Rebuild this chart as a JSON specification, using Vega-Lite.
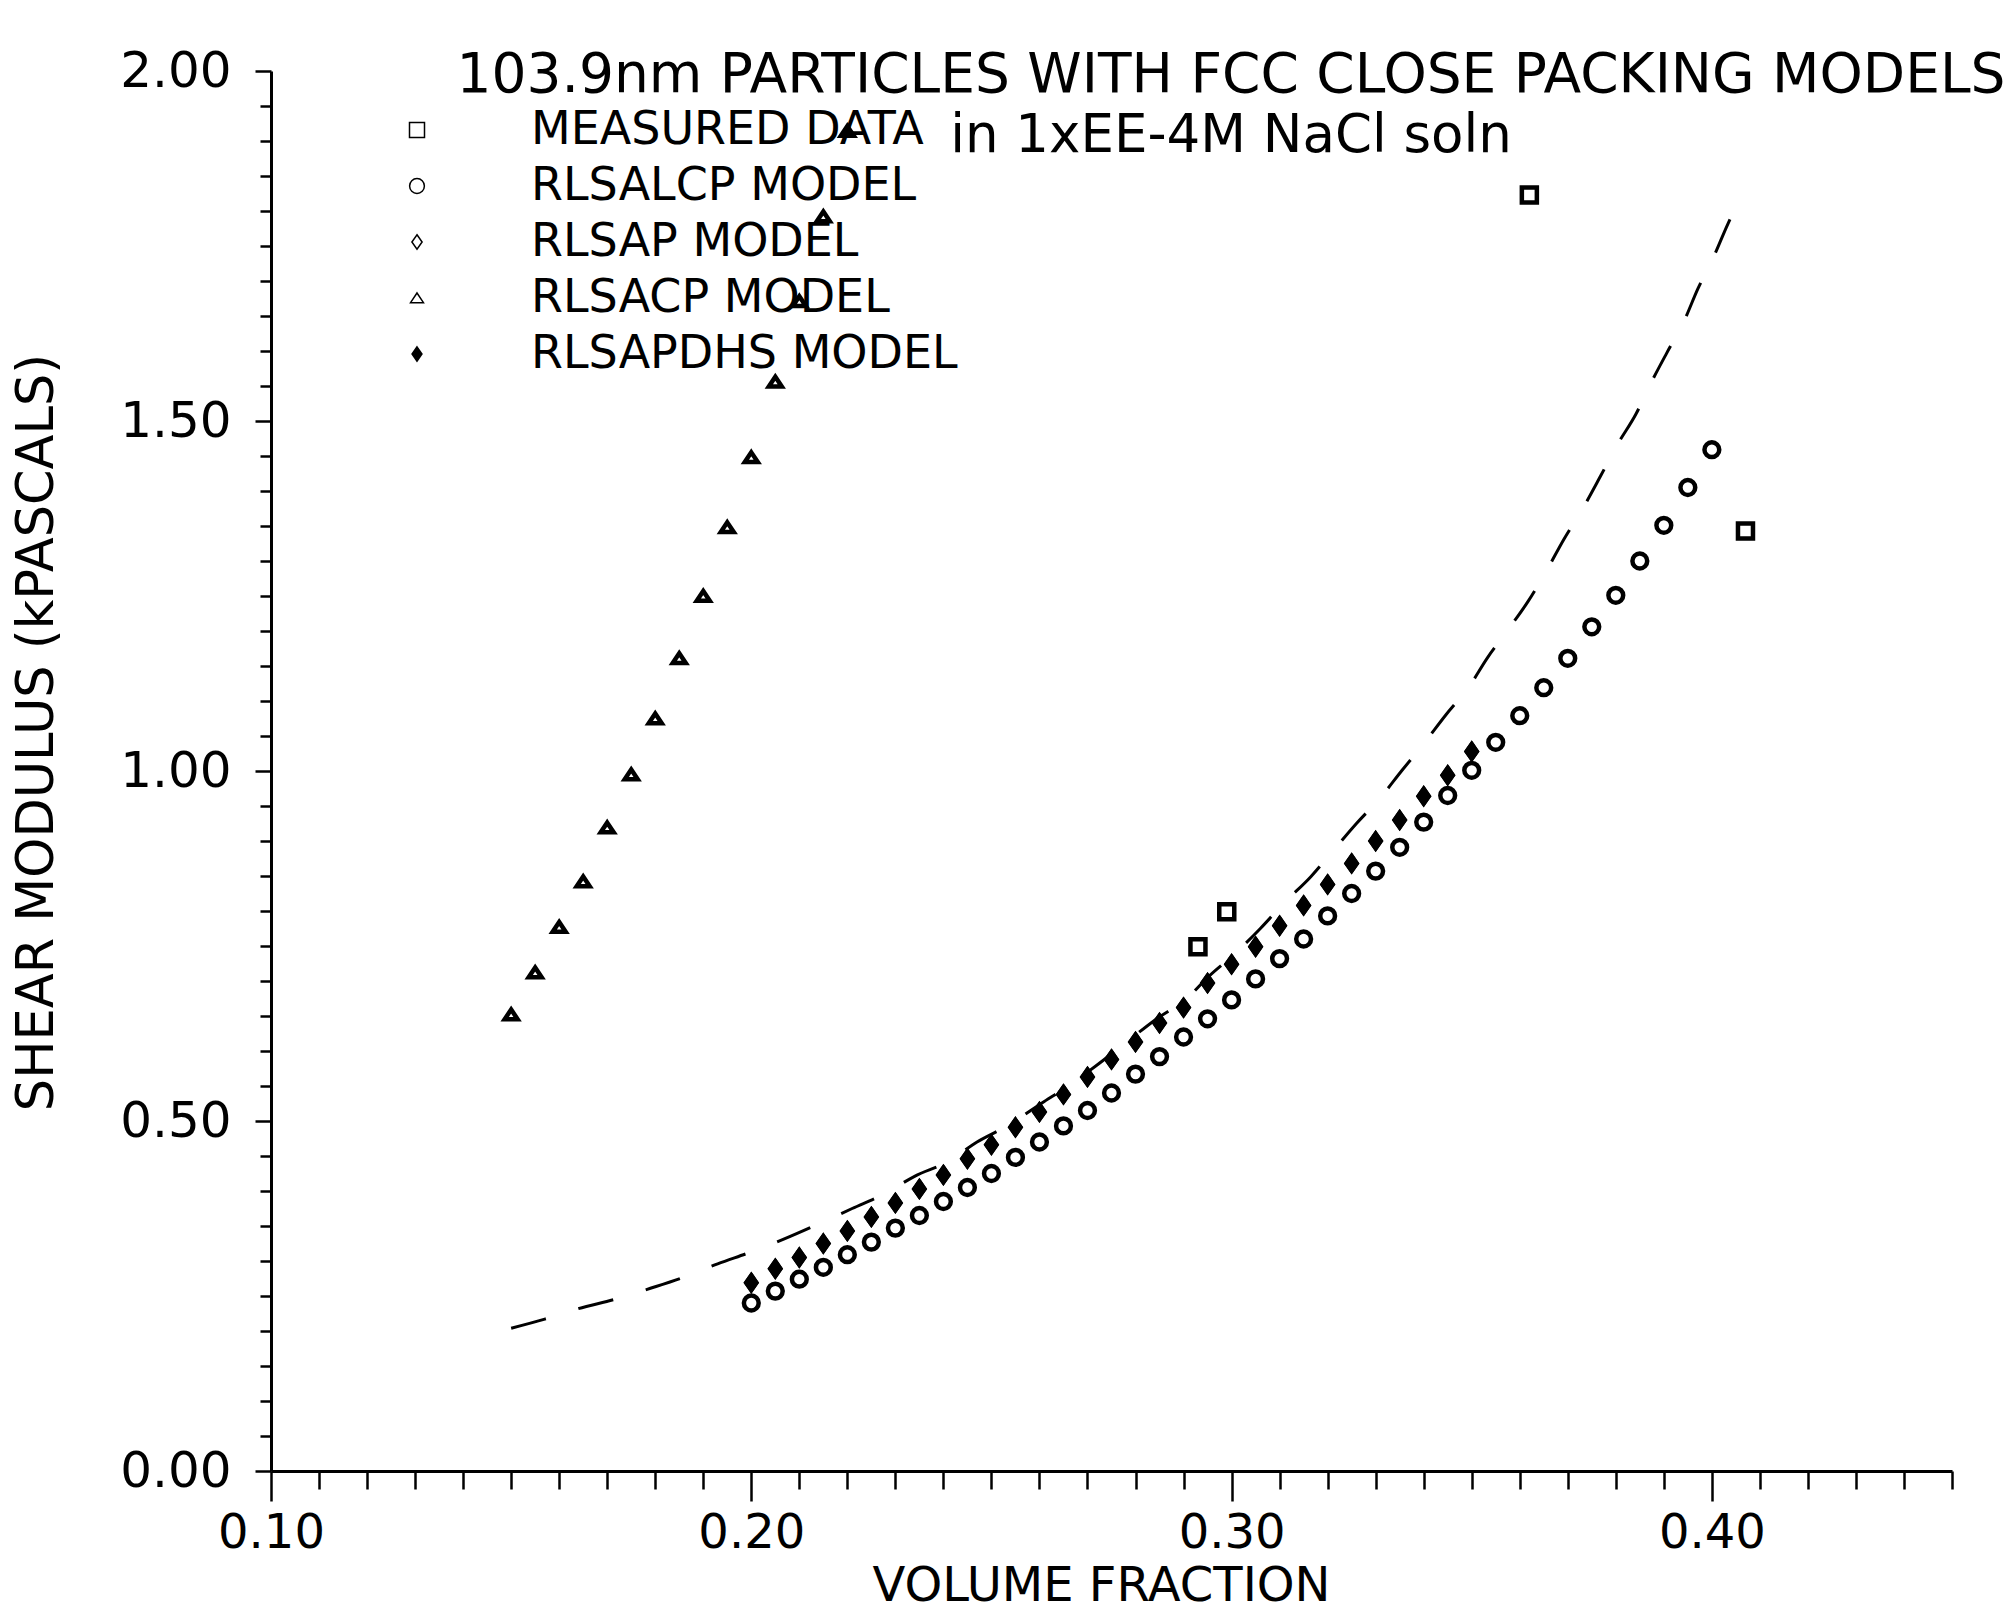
{
  "$schema": "https://vega.github.io/schema/vega-lite/v6.json",
  "width": 1681,
  "height": 1400,
  "autosize": {"type": "none"},
  "padding": {"left": 271, "top": 71, "right": 62, "bottom": 145},
  "background": "white",
  "config": {"view": {"stroke": null}, "font": "DejaVu Sans"},
  "title": {
    "text": "103.9nm PARTICLES WITH FCC CLOSE PACKING MODELS",
    "subtitle": "in 1xEE-4M NaCl soln",
    "anchor": "start",
    "align": "center",
    "frame": "group",
    "orient": "top",
    "offset": 0,
    "dx": 960,
    "dy": 118,
    "font": "DejaVu Sans",
    "fontSize": 55,
    "fontWeight": "normal",
    "color": "black",
    "subtitleFont": "DejaVu Sans",
    "subtitleFontSize": 53,
    "subtitleColor": "black",
    "subtitlePadding": 6
  },
  "datasets": {
    "curve": [
      {"fraction": 0.150, "modulus": 0.204},
      {"fraction": 0.157, "modulus": 0.217},
      {"fraction": 0.164, "modulus": 0.232},
      {"fraction": 0.172, "modulus": 0.246},
      {"fraction": 0.179, "modulus": 0.261},
      {"fraction": 0.186, "modulus": 0.277},
      {"fraction": 0.193, "modulus": 0.296},
      {"fraction": 0.200, "modulus": 0.313},
      {"fraction": 0.207, "modulus": 0.332},
      {"fraction": 0.214, "modulus": 0.353},
      {"fraction": 0.221, "modulus": 0.375},
      {"fraction": 0.228, "modulus": 0.397},
      {"fraction": 0.234, "modulus": 0.421},
      {"fraction": 0.241, "modulus": 0.442},
      {"fraction": 0.247, "modulus": 0.470},
      {"fraction": 0.253, "modulus": 0.492},
      {"fraction": 0.261, "modulus": 0.528},
      {"fraction": 0.266, "modulus": 0.550},
      {"fraction": 0.272, "modulus": 0.580},
      {"fraction": 0.278, "modulus": 0.612},
      {"fraction": 0.284, "modulus": 0.644},
      {"fraction": 0.291, "modulus": 0.677},
      {"fraction": 0.295, "modulus": 0.705},
      {"fraction": 0.301, "modulus": 0.741},
      {"fraction": 0.306, "modulus": 0.775},
      {"fraction": 0.311, "modulus": 0.812},
      {"fraction": 0.3165, "modulus": 0.849},
      {"fraction": 0.321, "modulus": 0.885},
      {"fraction": 0.326, "modulus": 0.925},
      {"fraction": 0.331, "modulus": 0.962},
      {"fraction": 0.3355, "modulus": 1.001},
      {"fraction": 0.340, "modulus": 1.039},
      {"fraction": 0.3446, "modulus": 1.080},
      {"fraction": 0.3495, "modulus": 1.121},
      {"fraction": 0.3533, "modulus": 1.162},
      {"fraction": 0.3577, "modulus": 1.203},
      {"fraction": 0.3618, "modulus": 1.243},
      {"fraction": 0.3658, "modulus": 1.289},
      {"fraction": 0.3692, "modulus": 1.331},
      {"fraction": 0.3732, "modulus": 1.376},
      {"fraction": 0.3768, "modulus": 1.421},
      {"fraction": 0.3804, "modulus": 1.467},
      {"fraction": 0.3842, "modulus": 1.510},
      {"fraction": 0.3873, "modulus": 1.554},
      {"fraction": 0.3906, "modulus": 1.597},
      {"fraction": 0.3941, "modulus": 1.641},
      {"fraction": 0.3971, "modulus": 1.689},
      {"fraction": 0.4004, "modulus": 1.735},
      {"fraction": 0.4033, "modulus": 1.781},
      {"fraction": 0.4064, "modulus": 1.825}
    ],
    "points": [
      {"series": "MEASURED DATA", "fraction": 0.293, "modulus": 0.749},
      {"series": "MEASURED DATA", "fraction": 0.299, "modulus": 0.799},
      {"series": "MEASURED DATA", "fraction": 0.362, "modulus": 1.823},
      {"series": "MEASURED DATA", "fraction": 0.407, "modulus": 1.343},

      {"series": "RLSALCP MODEL", "fraction": 0.200, "modulus": 0.240},
      {"series": "RLSALCP MODEL", "fraction": 0.205, "modulus": 0.257},
      {"series": "RLSALCP MODEL", "fraction": 0.210, "modulus": 0.274},
      {"series": "RLSALCP MODEL", "fraction": 0.215, "modulus": 0.291},
      {"series": "RLSALCP MODEL", "fraction": 0.220, "modulus": 0.309},
      {"series": "RLSALCP MODEL", "fraction": 0.225, "modulus": 0.327},
      {"series": "RLSALCP MODEL", "fraction": 0.230, "modulus": 0.347},
      {"series": "RLSALCP MODEL", "fraction": 0.235, "modulus": 0.365},
      {"series": "RLSALCP MODEL", "fraction": 0.240, "modulus": 0.385},
      {"series": "RLSALCP MODEL", "fraction": 0.245, "modulus": 0.405},
      {"series": "RLSALCP MODEL", "fraction": 0.250, "modulus": 0.425},
      {"series": "RLSALCP MODEL", "fraction": 0.255, "modulus": 0.448},
      {"series": "RLSALCP MODEL", "fraction": 0.260, "modulus": 0.470},
      {"series": "RLSALCP MODEL", "fraction": 0.265, "modulus": 0.493},
      {"series": "RLSALCP MODEL", "fraction": 0.270, "modulus": 0.515},
      {"series": "RLSALCP MODEL", "fraction": 0.275, "modulus": 0.540},
      {"series": "RLSALCP MODEL", "fraction": 0.280, "modulus": 0.567},
      {"series": "RLSALCP MODEL", "fraction": 0.285, "modulus": 0.592},
      {"series": "RLSALCP MODEL", "fraction": 0.290, "modulus": 0.620},
      {"series": "RLSALCP MODEL", "fraction": 0.295, "modulus": 0.646},
      {"series": "RLSALCP MODEL", "fraction": 0.300, "modulus": 0.673},
      {"series": "RLSALCP MODEL", "fraction": 0.305, "modulus": 0.703},
      {"series": "RLSALCP MODEL", "fraction": 0.310, "modulus": 0.732},
      {"series": "RLSALCP MODEL", "fraction": 0.315, "modulus": 0.760},
      {"series": "RLSALCP MODEL", "fraction": 0.320, "modulus": 0.793},
      {"series": "RLSALCP MODEL", "fraction": 0.325, "modulus": 0.825},
      {"series": "RLSALCP MODEL", "fraction": 0.330, "modulus": 0.857},
      {"series": "RLSALCP MODEL", "fraction": 0.335, "modulus": 0.891},
      {"series": "RLSALCP MODEL", "fraction": 0.340, "modulus": 0.927},
      {"series": "RLSALCP MODEL", "fraction": 0.345, "modulus": 0.965},
      {"series": "RLSALCP MODEL", "fraction": 0.350, "modulus": 1.001},
      {"series": "RLSALCP MODEL", "fraction": 0.355, "modulus": 1.041},
      {"series": "RLSALCP MODEL", "fraction": 0.360, "modulus": 1.079},
      {"series": "RLSALCP MODEL", "fraction": 0.365, "modulus": 1.119},
      {"series": "RLSALCP MODEL", "fraction": 0.370, "modulus": 1.161},
      {"series": "RLSALCP MODEL", "fraction": 0.375, "modulus": 1.206},
      {"series": "RLSALCP MODEL", "fraction": 0.380, "modulus": 1.251},
      {"series": "RLSALCP MODEL", "fraction": 0.385, "modulus": 1.300},
      {"series": "RLSALCP MODEL", "fraction": 0.390, "modulus": 1.351},
      {"series": "RLSALCP MODEL", "fraction": 0.395, "modulus": 1.405},
      {"series": "RLSALCP MODEL", "fraction": 0.400, "modulus": 1.459},

      {"series": "RLSAP MODEL", "fraction": 0.200, "modulus": 0.269},
      {"series": "RLSAP MODEL", "fraction": 0.205, "modulus": 0.289},
      {"series": "RLSAP MODEL", "fraction": 0.210, "modulus": 0.305},
      {"series": "RLSAP MODEL", "fraction": 0.215, "modulus": 0.325},
      {"series": "RLSAP MODEL", "fraction": 0.220, "modulus": 0.343},
      {"series": "RLSAP MODEL", "fraction": 0.225, "modulus": 0.363},
      {"series": "RLSAP MODEL", "fraction": 0.230, "modulus": 0.383},
      {"series": "RLSAP MODEL", "fraction": 0.235, "modulus": 0.403},
      {"series": "RLSAP MODEL", "fraction": 0.240, "modulus": 0.423},
      {"series": "RLSAP MODEL", "fraction": 0.245, "modulus": 0.446},
      {"series": "RLSAP MODEL", "fraction": 0.250, "modulus": 0.466},
      {"series": "RLSAP MODEL", "fraction": 0.255, "modulus": 0.491},
      {"series": "RLSAP MODEL", "fraction": 0.260, "modulus": 0.513},
      {"series": "RLSAP MODEL", "fraction": 0.265, "modulus": 0.538},
      {"series": "RLSAP MODEL", "fraction": 0.270, "modulus": 0.563},
      {"series": "RLSAP MODEL", "fraction": 0.275, "modulus": 0.588},
      {"series": "RLSAP MODEL", "fraction": 0.280, "modulus": 0.613},
      {"series": "RLSAP MODEL", "fraction": 0.285, "modulus": 0.640},
      {"series": "RLSAP MODEL", "fraction": 0.290, "modulus": 0.662},
      {"series": "RLSAP MODEL", "fraction": 0.295, "modulus": 0.697},
      {"series": "RLSAP MODEL", "fraction": 0.300, "modulus": 0.724},
      {"series": "RLSAP MODEL", "fraction": 0.305, "modulus": 0.749},
      {"series": "RLSAP MODEL", "fraction": 0.310, "modulus": 0.779},
      {"series": "RLSAP MODEL", "fraction": 0.315, "modulus": 0.808},
      {"series": "RLSAP MODEL", "fraction": 0.320, "modulus": 0.838},
      {"series": "RLSAP MODEL", "fraction": 0.325, "modulus": 0.868},
      {"series": "RLSAP MODEL", "fraction": 0.330, "modulus": 0.900},
      {"series": "RLSAP MODEL", "fraction": 0.335, "modulus": 0.930},
      {"series": "RLSAP MODEL", "fraction": 0.340, "modulus": 0.964},
      {"series": "RLSAP MODEL", "fraction": 0.345, "modulus": 0.994},
      {"series": "RLSAP MODEL", "fraction": 0.350, "modulus": 1.028},

      {"series": "RLSACP MODEL", "fraction": 0.150, "modulus": 0.652},
      {"series": "RLSACP MODEL", "fraction": 0.155, "modulus": 0.712},
      {"series": "RLSACP MODEL", "fraction": 0.160, "modulus": 0.777},
      {"series": "RLSACP MODEL", "fraction": 0.165, "modulus": 0.842},
      {"series": "RLSACP MODEL", "fraction": 0.170, "modulus": 0.919},
      {"series": "RLSACP MODEL", "fraction": 0.175, "modulus": 0.995},
      {"series": "RLSACP MODEL", "fraction": 0.180, "modulus": 1.075},
      {"series": "RLSACP MODEL", "fraction": 0.185, "modulus": 1.161},
      {"series": "RLSACP MODEL", "fraction": 0.190, "modulus": 1.250},
      {"series": "RLSACP MODEL", "fraction": 0.195, "modulus": 1.348},
      {"series": "RLSACP MODEL", "fraction": 0.200, "modulus": 1.448},
      {"series": "RLSACP MODEL", "fraction": 0.205, "modulus": 1.556},
      {"series": "RLSACP MODEL", "fraction": 0.210, "modulus": 1.671},
      {"series": "RLSACP MODEL", "fraction": 0.215, "modulus": 1.792},
      {"series": "RLSACP MODEL", "fraction": 0.220, "modulus": 1.914},

      {"series": "RLSAPDHS MODEL", "fraction": 0.200, "modulus": 0.269},
      {"series": "RLSAPDHS MODEL", "fraction": 0.205, "modulus": 0.289},
      {"series": "RLSAPDHS MODEL", "fraction": 0.210, "modulus": 0.305},
      {"series": "RLSAPDHS MODEL", "fraction": 0.215, "modulus": 0.325},
      {"series": "RLSAPDHS MODEL", "fraction": 0.220, "modulus": 0.343},
      {"series": "RLSAPDHS MODEL", "fraction": 0.225, "modulus": 0.363},
      {"series": "RLSAPDHS MODEL", "fraction": 0.230, "modulus": 0.383},
      {"series": "RLSAPDHS MODEL", "fraction": 0.235, "modulus": 0.403},
      {"series": "RLSAPDHS MODEL", "fraction": 0.240, "modulus": 0.423},
      {"series": "RLSAPDHS MODEL", "fraction": 0.245, "modulus": 0.446},
      {"series": "RLSAPDHS MODEL", "fraction": 0.250, "modulus": 0.466},
      {"series": "RLSAPDHS MODEL", "fraction": 0.255, "modulus": 0.491},
      {"series": "RLSAPDHS MODEL", "fraction": 0.260, "modulus": 0.513},
      {"series": "RLSAPDHS MODEL", "fraction": 0.265, "modulus": 0.538},
      {"series": "RLSAPDHS MODEL", "fraction": 0.270, "modulus": 0.563},
      {"series": "RLSAPDHS MODEL", "fraction": 0.275, "modulus": 0.588},
      {"series": "RLSAPDHS MODEL", "fraction": 0.280, "modulus": 0.613},
      {"series": "RLSAPDHS MODEL", "fraction": 0.285, "modulus": 0.640},
      {"series": "RLSAPDHS MODEL", "fraction": 0.290, "modulus": 0.662},
      {"series": "RLSAPDHS MODEL", "fraction": 0.295, "modulus": 0.697},
      {"series": "RLSAPDHS MODEL", "fraction": 0.300, "modulus": 0.724},
      {"series": "RLSAPDHS MODEL", "fraction": 0.305, "modulus": 0.749},
      {"series": "RLSAPDHS MODEL", "fraction": 0.310, "modulus": 0.779},
      {"series": "RLSAPDHS MODEL", "fraction": 0.315, "modulus": 0.808},
      {"series": "RLSAPDHS MODEL", "fraction": 0.320, "modulus": 0.838},
      {"series": "RLSAPDHS MODEL", "fraction": 0.325, "modulus": 0.868},
      {"series": "RLSAPDHS MODEL", "fraction": 0.330, "modulus": 0.900},
      {"series": "RLSAPDHS MODEL", "fraction": 0.335, "modulus": 0.930},
      {"series": "RLSAPDHS MODEL", "fraction": 0.340, "modulus": 0.964},
      {"series": "RLSAPDHS MODEL", "fraction": 0.345, "modulus": 0.994},
      {"series": "RLSAPDHS MODEL", "fraction": 0.350, "modulus": 1.028}
    ]
  },
  "encoding": {
    "x": {
      "field": "fraction",
      "type": "quantitative",
      "scale": {"domain": [0.1, 0.45], "nice": false, "zero": false},
      "axis": {
        "values": [0.1,0.11,0.12,0.13,0.14,0.15,0.16,0.17,0.18,0.19,0.2,0.21,0.22,0.23,0.24,0.25,0.26,0.27,0.28,0.29,0.3,0.31,0.32,0.33,0.34,0.35,0.36,0.37,0.38,0.39,0.4,0.41,0.42,0.43,0.44,0.45],
        "labelExpr": "abs(datum.value*10 - round(datum.value*10)) < 0.0001 ? format(datum.value, '.2f') : ''",
        "labelOverlap": false,
        "labelFlush": false,
        "labelFont": "DejaVu Sans",
        "labelFontSize": 48,
        "labelColor": "black",
        "labelPadding": 8,
        "tickSize": {"condition": {"test": "abs(datum.value*10 - round(datum.value*10)) < 0.0001", "value": 30}, "value": 18},
        "tickWidth": 2.5,
        "tickColor": "black",
        "domainColor": "black",
        "domainWidth": 3,
        "grid": false,
        "title": "VOLUME FRACTION",
        "titleFont": "DejaVu Sans",
        "titleFontSize": 48,
        "titleFontWeight": "normal",
        "titleColor": "black",
        "titleX": 830,
        "titleY": 129,
        "titleAlign": "center",
        "titleBaseline": "alphabetic"
      }
    },
    "y": {
      "field": "modulus",
      "type": "quantitative",
      "scale": {"domain": [0, 2], "nice": false, "zero": false},
      "axis": {
        "values": [0,0.05,0.1,0.15,0.2,0.25,0.3,0.35,0.4,0.45,0.5,0.55,0.6,0.65,0.7,0.75,0.8,0.85,0.9,0.95,1,1.05,1.1,1.15,1.2,1.25,1.3,1.35,1.4,1.45,1.5,1.55,1.6,1.65,1.7,1.75,1.8,1.85,1.9,1.95,2],
        "labelExpr": "abs(datum.value*2 - round(datum.value*2)) < 0.0001 ? format(datum.value, '.2f') : ''",
        "labelOverlap": false,
        "labelFlush": false,
        "labelFont": "DejaVu Sans",
        "labelFontSize": 50,
        "labelColor": "black",
        "labelPadding": 24,
        "tickSize": {"condition": {"test": "abs(datum.value*2 - round(datum.value*2)) < 0.0001", "value": 16}, "value": 11},
        "tickWidth": 2.5,
        "tickColor": "black",
        "domainColor": "black",
        "domainWidth": 3,
        "grid": false,
        "title": "SHEAR MODULUS (kPASCALS)",
        "titleFont": "DejaVu Sans",
        "titleFontSize": 51,
        "titleFontWeight": "normal",
        "titleColor": "black",
        "titleX": -208,
        "titleY": 661,
        "titleAlign": "center",
        "titleAngle": 270,
        "titleBaseline": "bottom"
      }
    }
  },
  "layer": [
    {
      "data": {"name": "curve"},
      "mark": {"type": "line", "color": "black", "strokeWidth": 3, "strokeDash": [36, 34], "interpolate": "monotone"},
      "encoding": {}
    },
    {
      "data": {"name": "points"},
      "mark": {"type": "point", "opacity": 1, "color": "black", "stroke": "black", "strokeWidth": 4.5},
      "encoding": {
        "shape": {
          "field": "series", "type": "nominal",
          "scale": {
            "domain": ["MEASURED DATA", "RLSALCP MODEL", "RLSAP MODEL", "RLSACP MODEL", "RLSAPDHS MODEL"],
            "range": ["square", "circle", "M0,-1L0.7,0L0,1L-0.7,0Z", "M0,-0.7L0.9,0.65L-0.9,0.65Z", "M0,-1L0.7,0L0,1L-0.7,0ZM0,-0.5L-0.35,0L0,0.5L0.35,0ZM0,-0.2L0.14,0L0,0.2L-0.14,0Z"]
          },
          "legend": {
            "orient": "none", "legendX": 123, "legendY": 36, "title": null,
            "labelFont": "DejaVu Sans", "labelFontSize": 46, "labelColor": "black",
            "labelOffset": 91, "labelLimit": 0, "rowPadding": 10, "padding": 0,
            "symbolSize": 300,
            "encode": {"symbols": {"update": {"stroke": {"value": "black"}, "strokeWidth": {"value": 4}, "opacity": {"value": 1}}}}
          }
        },
        "fill": {
          "field": "series", "type": "nominal",
          "scale": {
            "domain": ["MEASURED DATA", "RLSALCP MODEL", "RLSAP MODEL", "RLSACP MODEL", "RLSAPDHS MODEL"],
            "range": ["transparent", "transparent", "transparent", "transparent", "black"]
          },
          "legend": {
            "orient": "none", "legendX": 123, "legendY": 36, "title": null,
            "labelFont": "DejaVu Sans", "labelFontSize": 46, "labelColor": "black",
            "labelOffset": 91, "labelLimit": 0, "rowPadding": 10, "padding": 0,
            "symbolSize": 300,
            "encode": {"symbols": {"update": {"stroke": {"value": "black"}, "strokeWidth": {"value": 4}, "opacity": {"value": 1}}}}
          }
        },
        "size": {
          "field": "series", "type": "nominal",
          "scale": {
            "domain": ["MEASURED DATA", "RLSALCP MODEL", "RLSAP MODEL", "RLSACP MODEL", "RLSAPDHS MODEL"],
            "range": [225, 200, 450, 480, 330]
          },
          "legend": {
            "orient": "none", "legendX": 123, "legendY": 36, "title": null,
            "labelFont": "DejaVu Sans", "labelFontSize": 46, "labelColor": "black",
            "labelOffset": 91, "labelLimit": 0, "rowPadding": 10, "padding": 0,
            "symbolSize": 300,
            "encode": {"symbols": {"update": {"stroke": {"value": "black"}, "strokeWidth": {"value": 4}, "opacity": {"value": 1}}}}
          }
        }
      }
    }
  ]
}
